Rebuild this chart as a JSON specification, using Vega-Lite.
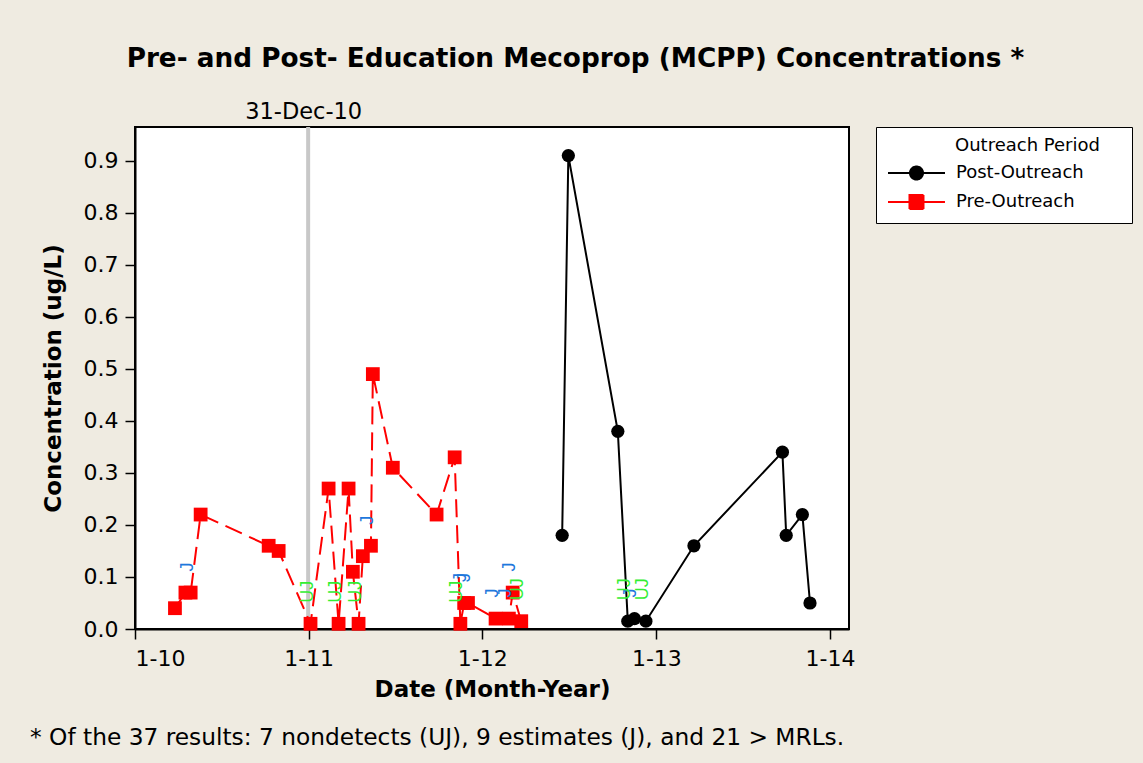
{
  "$schema": "https://vega.github.io/schema/vega-lite/v6.json",
  "width": 714,
  "height": 502,
  "autosize": {"type": "none"},
  "padding": {"left": 135, "top": 127, "right": 294, "bottom": 134},
  "background": "#efebe1",
  "title": {
    "text": "* Of the 37 results: 7 nondetects (UJ), 9 estimates (J), and 21 > MRLs.",
    "orient": "bottom",
    "anchor": "start",
    "frame": "bounds",
    "font": "DejaVu Sans",
    "fontSize": 23.3,
    "fontWeight": "normal",
    "color": "black",
    "offset": 26,
    "dx": -12
  },
  "datasets": {
    "mcpp": [
      {"date": "2010-03-26", "conc": 0.04, "period": "Pre-Outreach", "flag": ""},
      {"date": "2010-04-17", "conc": 0.07, "period": "Pre-Outreach", "flag": ""},
      {"date": "2010-04-28", "conc": 0.07, "period": "Pre-Outreach", "flag": "J"},
      {"date": "2010-05-19", "conc": 0.22, "period": "Pre-Outreach", "flag": ""},
      {"date": "2010-10-09", "conc": 0.16, "period": "Pre-Outreach", "flag": ""},
      {"date": "2010-10-30", "conc": 0.15, "period": "Pre-Outreach", "flag": ""},
      {"date": "2011-01-05", "conc": 0.01, "period": "Pre-Outreach", "flag": "UJ"},
      {"date": "2011-02-12", "conc": 0.27, "period": "Pre-Outreach", "flag": ""},
      {"date": "2011-03-05", "conc": 0.01, "period": "Pre-Outreach", "flag": "UJ"},
      {"date": "2011-03-26", "conc": 0.27, "period": "Pre-Outreach", "flag": ""},
      {"date": "2011-04-04", "conc": 0.11, "period": "Pre-Outreach", "flag": ""},
      {"date": "2011-04-16", "conc": 0.01, "period": "Pre-Outreach", "flag": "UJ"},
      {"date": "2011-04-25", "conc": 0.14, "period": "Pre-Outreach", "flag": ""},
      {"date": "2011-05-12", "conc": 0.16, "period": "Pre-Outreach", "flag": "J"},
      {"date": "2011-05-16", "conc": 0.49, "period": "Pre-Outreach", "flag": ""},
      {"date": "2011-06-27", "conc": 0.31, "period": "Pre-Outreach", "flag": ""},
      {"date": "2011-09-27", "conc": 0.22, "period": "Pre-Outreach", "flag": ""},
      {"date": "2011-11-04", "conc": 0.33, "period": "Pre-Outreach", "flag": ""},
      {"date": "2011-11-16", "conc": 0.01, "period": "Pre-Outreach", "flag": "UJ"},
      {"date": "2011-11-24", "conc": 0.05, "period": "Pre-Outreach", "flag": "J"},
      {"date": "2011-12-02", "conc": 0.05, "period": "Pre-Outreach", "flag": "J"},
      {"date": "2012-01-29", "conc": 0.02, "period": "Pre-Outreach", "flag": "J"},
      {"date": "2012-02-26", "conc": 0.02, "period": "Pre-Outreach", "flag": "J"},
      {"date": "2012-03-05", "conc": 0.07, "period": "Pre-Outreach", "flag": "J"},
      {"date": "2012-03-23", "conc": 0.015, "period": "Pre-Outreach", "flag": "UJ"},
      {"date": "2012-06-17", "conc": 0.18, "period": "Post-Outreach", "flag": ""},
      {"date": "2012-06-30", "conc": 0.91, "period": "Post-Outreach", "flag": ""},
      {"date": "2012-10-12", "conc": 0.38, "period": "Post-Outreach", "flag": ""},
      {"date": "2012-11-02", "conc": 0.015, "period": "Post-Outreach", "flag": "UJ"},
      {"date": "2012-11-16", "conc": 0.02, "period": "Post-Outreach", "flag": "J"},
      {"date": "2012-12-10", "conc": 0.015, "period": "Post-Outreach", "flag": "UJ"},
      {"date": "2013-03-21", "conc": 0.16, "period": "Post-Outreach", "flag": ""},
      {"date": "2013-09-23", "conc": 0.34, "period": "Post-Outreach", "flag": ""},
      {"date": "2013-10-01", "conc": 0.18, "period": "Post-Outreach", "flag": ""},
      {"date": "2013-11-04", "conc": 0.22, "period": "Post-Outreach", "flag": ""},
      {"date": "2013-11-20", "conc": 0.05, "period": "Post-Outreach", "flag": ""}
    ]
  },
  "data": {"name": "mcpp"},
  "resolve": {"axis": {"x": "independent"}},
  "layer": [
    {
      "data": {"values": [{"date": "2010-12-31"}]},
      "mark": {"type": "rule", "color": "#c8c8c8", "strokeWidth": 4},
      "encoding": {
        "x": {
          "field": "date",
          "type": "temporal",
          "scale": {"type": "utc"},
          "axis": {
            "orient": "top",
            "values": [{"year": 2010, "month": 12, "date": 31, "utc": true}],
            "labelExpr": "'31-Dec-10'",
            "labelOffset": -5,
            "ticks": false,
            "domain": false,
            "grid": false,
            "labelFontSize": 22.5,
            "labelPadding": 4,
            "labelFont": "DejaVu Sans",
            "labelColor": "black",
            "title": "Pre- and Post- Education Mecoprop (MCPP) Concentrations *",
            "titleFont": "DejaVu Sans",
            "titleFontSize": 26.3,
            "titleFontWeight": "bold",
            "titleColor": "black",
            "titleX": 440,
            "titleY": -61,
            "titleAlign": "center",
            "titleBaseline": "alphabetic",
            "titleAngle": 0
          }
        }
      }
    },
    {
      "transform": [{"filter": "datum.period == 'Pre-Outreach'"}],
      "mark": {"type": "line", "strokeWidth": 2, "strokeDash": [18, 8]},
      "encoding": {
        "x": {
          "field": "date",
          "type": "temporal",
          "scale": {
            "type": "utc",
            "nice": false,
            "domain": [
              {"year": 2010, "month": 1, "date": 1, "utc": true},
              {"year": 2014, "month": 2, "date": 10, "utc": true}
            ]
          },
          "axis": {
            "orient": "bottom",
            "values": [
              {"year": 2010, "month": 1, "date": 1, "utc": true},
              {"year": 2011, "month": 1, "date": 1, "utc": true},
              {"year": 2012, "month": 1, "date": 1, "utc": true},
              {"year": 2013, "month": 1, "date": 1, "utc": true},
              {"year": 2014, "month": 1, "date": 1, "utc": true}
            ],
            "labelExpr": "utcFormat(datum.value, '%-m-%y')",
            "labelPadding": 9,
            "title": "Date (Month-Year)",
            "titlePadding": 9
          }
        },
        "y": {
          "field": "conc",
          "type": "quantitative",
          "scale": {"domain": [0, 0.965], "nice": false},
          "axis": {
            "values": [0, 0.1, 0.2, 0.3, 0.4, 0.5, 0.6, 0.7, 0.8, 0.9],
            "format": ".1f",
            "labelPadding": 7,
            "title": "Concentration (ug/L)",
            "titlePadding": 18
          }
        },
        "color": {
          "field": "period",
          "type": "nominal",
          "scale": {"domain": ["Post-Outreach", "Pre-Outreach"], "range": ["#000000", "#ff0000"]},
          "legend": {
            "title": "Outreach Period",
            "orient": "right",
            "offset": 27,
            "padding": 10,
            "strokeColor": "black",
            "fillColor": "white",
            "titleFont": "DejaVu Sans",
            "titleFontSize": 18,
            "titleFontWeight": "normal",
            "titleColor": "black",
            "titlePadding": 9,
            "labelFont": "DejaVu Sans",
            "labelFontSize": 18,
            "labelColor": "black",
            "labelOffset": 52,
            "labelLimit": 300,
            "symbolSize": 196,
            "symbolStrokeWidth": 2,
            "rowPadding": 7,
            "encode": {
              "title": {"update": {"dx": {"value": 69}}},
              "symbols": {
                "update": {
                  "shape": {"signal": "datum.value == 'Post-Outreach' ? 'M-1,0H7.14M4,0A0.93,0.93,0,1,1,2.14,0A0.93,0.93,0,1,1,4,0ZM31.8,0' : 'M-1,0H7.14M2.07,-1H4.07V1H2.07ZM31.8,0'"},
                  "fill": {"signal": "datum.value == 'Post-Outreach' ? '#000000' : '#ff0000'"},
                  "stroke": {"signal": "datum.value == 'Post-Outreach' ? '#000000' : '#ff0000'"},
                  "strokeDash": {"value": [1, 0]},
                  "strokeWidth": {"value": 2},
                  "size": {"value": 196},
                  "opacity": {"value": 1}
                }
              }
            }
          }
        }
      }
    },
    {
      "transform": [{"filter": "datum.period == 'Post-Outreach'"}],
      "mark": {"type": "line", "strokeWidth": 2},
      "encoding": {
        "x": {"field": "date", "type": "temporal", "scale": {"type": "utc"}, "axis": null},
        "y": {"field": "conc", "type": "quantitative"},
        "color": {"field": "period", "type": "nominal"}
      }
    },
    {
      "transform": [{"filter": "datum.period == 'Post-Outreach'"}],
      "mark": {"type": "point", "shape": "circle", "filled": true, "opacity": 1, "size": 175},
      "encoding": {
        "x": {"field": "date", "type": "temporal", "scale": {"type": "utc"}, "axis": null},
        "y": {"field": "conc", "type": "quantitative"},
        "color": {"field": "period", "type": "nominal"}
      }
    },
    {
      "transform": [{"filter": "datum.period == 'Pre-Outreach'"}],
      "mark": {"type": "point", "shape": "square", "filled": true, "opacity": 1, "size": 190},
      "encoding": {
        "x": {"field": "date", "type": "temporal", "scale": {"type": "utc"}, "axis": null},
        "y": {"field": "conc", "type": "quantitative"},
        "color": {"field": "period", "type": "nominal"}
      }
    },
    {
      "transform": [{"filter": "datum.flag == 'J'"}],
      "mark": {"type": "text", "angle": 270, "align": "left", "baseline": "middle", "dx": 21, "dy": -3, "font": "Liberation Sans", "fontSize": 18, "color": "#1e78dc"},
      "encoding": {
        "x": {"field": "date", "type": "temporal", "scale": {"type": "utc"}, "axis": null},
        "y": {"field": "conc", "type": "quantitative"},
        "text": {"field": "flag"}
      }
    },
    {
      "transform": [{"filter": "datum.flag == 'UJ'"}],
      "mark": {"type": "text", "angle": 270, "align": "left", "baseline": "middle", "dx": 21, "dy": -3, "font": "Liberation Sans", "fontSize": 18, "color": "#33ee33"},
      "encoding": {
        "x": {"field": "date", "type": "temporal", "scale": {"type": "utc"}, "axis": null},
        "y": {"field": "conc", "type": "quantitative"},
        "text": {"field": "flag"}
      }
    }
  ],
  "config": {
    "view": {"stroke": "black", "strokeWidth": 2, "fill": "white"},
    "axis": {
      "domainColor": "black",
      "domainWidth": 2,
      "tickColor": "black",
      "tickWidth": 1.5,
      "tickSize": 10,
      "labelColor": "black",
      "titleColor": "black",
      "grid": false,
      "labelFont": "DejaVu Sans",
      "titleFont": "DejaVu Sans",
      "labelFontSize": 22,
      "titleFontSize": 23,
      "titleFontWeight": "bold"
    }
  }
}
